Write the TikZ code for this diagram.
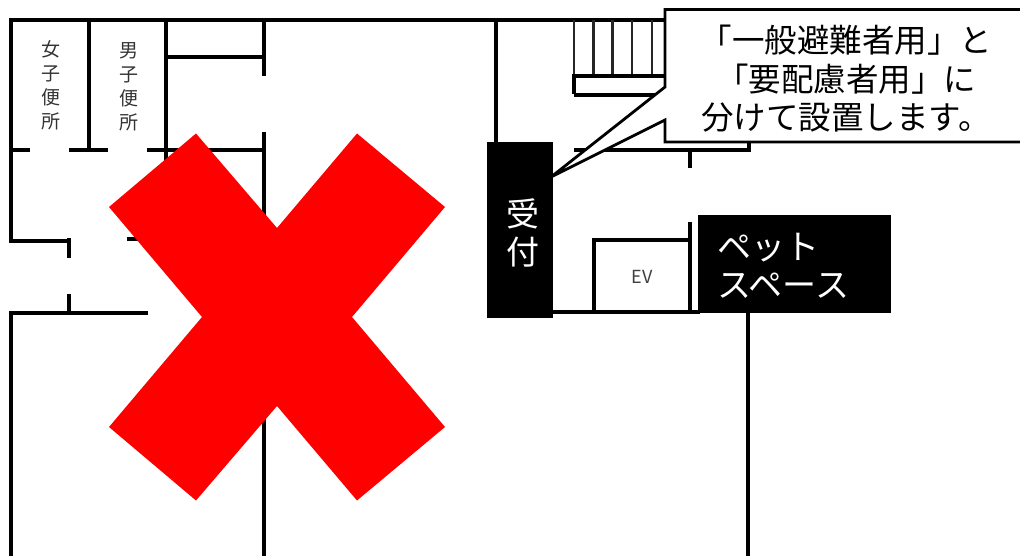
\documentclass[tikz,border=0pt]{standalone}
\usepackage{fontspec}
\setmainfont{Noto Sans CJK JP}
\newcommand{\fs}[2]{\fontsize{#1}{#2}\selectfont}
\tikzset{
  wall/.style={line width=4pt,black,line cap=butt,line join=miter},
  thin wall/.style={line width=2.2pt,black!85},
  blackbox/.style={fill=black,draw=none},
  callout/.style={fill=white,draw=black,line width=2.8pt,line join=miter},
  cross/.style={fill=red,draw=none},
  small/.style={inner sep=0,align=center,text=black!80,font=\fs{19}{24}},
  big/.style={inner sep=0,align=center,font=\fs{32.5}{38.5}},
}
\begin{document}
\begin{tikzpicture}[x=1pt,y=-1pt]
\useasboundingbox (0,0) rectangle (1020,556);
% walls, top and left rooms
\draw[wall] (10,20.5) -- (700,20.5);
\draw[wall] (11,18.5) -- (11,241.5) -- (70,241.5)--(69,241.5);
\draw[wall] (69,238) -- (69,258);
\draw[wall] (69,294) -- (69,312);
\draw[wall] (148,312.5) -- (11,312.5) -- (11,556);
\draw[wall] (127,239.5) -- (150,239.5);
\draw[wall] (89,20) -- (89,152);
\draw[wall] (11,150) -- (30,150);
\draw[wall] (69,150) -- (108,150);
\draw[wall] (147,150) -- (266,150);
\draw[wall] (166,20) -- (166,170);
\draw[wall] (166,57.5) -- (264,57.5);
\draw[wall] (263.5,20) -- (263.5,76);
\draw[wall] (263.5,132) -- (263.5,556);
% right part
\draw[wall] (496,20) -- (496,145);
\foreach \x in {574,593.5,612.5,632,652}{\draw[thin wall] (\x,20) -- (\x,76);}
\draw[wall] (574,94.5) -- (574,76) -- (700,76);
\draw[wall] (574,95) -- (700,95);
\draw[wall] (574,150) -- (749,150) -- (749,130);
\draw[wall] (690,150) -- (690,168.5);
\draw[wall] (593.5,312) -- (593.5,240) -- (690,240);
\draw[wall] (690,222) -- (690,314);
\draw[wall] (550,312) -- (700,312);
\draw[wall] (748,312) -- (748,556);
% cross
\draw[cross] (196,133.5) -- (277,228) -- (357,133.5) -- (445,207) -- (352,317) -- (445,427) -- (357,500.5) -- (277,406) -- (196,500.5) -- (109,427) -- (202,317) -- (109,207) -- cycle;
% boxes
\node[blackbox,minimum width=66pt,minimum height=176pt,inner sep=0,anchor=north west] (uketsuke) at (487,142) {};
\node[inner sep=0,text=white,align=center,font=\fs{33}{38},anchor=center] (uketext) at (523,233) {受\\付};
\node[blackbox,minimum width=193pt,minimum height=98pt,inner sep=0,anchor=north west] (pet) at (698,215) {};
\node[inner sep=0,text=white,align=left,font=\fs{34}{38},anchor=west] (pettext) at (717,266) {ペット\\スペース};
% callout
\coordinate (tip) at (551,177);
\draw[callout] (665,87) -- (665,9.5) -- (1022,9.5) -- (1022,142) -- (665,142) -- (665,120) -- (tip) -- cycle;
\node[big,anchor=center] (calltext) at (846,79) {「一般避難者用」と\\「要配慮者用」に\\分けて設置します。};
% labels
\node[small] (women) at (50.5,85) {女\\子\\便\\所};
\node[small] (men) at (128.5,87) {男\\子\\便\\所};
\node[inner sep=0,text=black!75,font=\fs{18}{20}] (ev) at (642,277) {EV};
\end{tikzpicture}
\end{document}
